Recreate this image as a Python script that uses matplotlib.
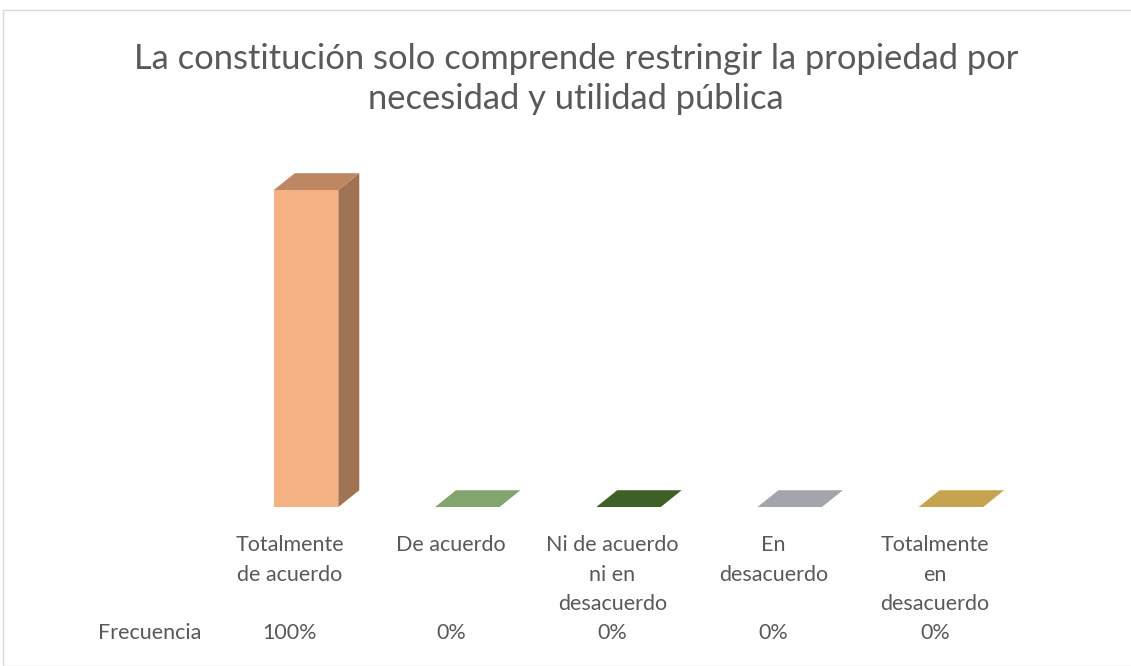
import matplotlib.pyplot as plt
import matplotlib.transforms as mtransforms
from matplotlib.patches import Polygon, Rectangle

# data
categories = ["Totalmente\nde acuerdo", "De acuerdo", "Ni de acuerdo\nni en\ndesacuerdo",
              "En\ndesacuerdo", "Totalmente\nen\ndesacuerdo"]
values = [1.0, 0.0, 0.0, 0.0, 0.0]
value_labels = ["100%", "0%", "0%", "0%", "0%"]
row_label = "Frecuencia"
title = "La constitución solo comprende restringir la propiedad por\nnecesidad y utilidad pública"

front_colors = ["#F4B183", "#82A46E", "#3E6027", "#A3A5AD", "#C4A44E"]
top_colors = ["#BD8763", "#82A46E", "#3E6027", "#A3A5AD", "#C4A44E"]
side_colors = ["#A07352", "#6E8C5C", "#334F20", "#8A8C93", "#A88C42"]

plt.rcParams['font.family'] = ['Lato', 'DejaVu Sans']
text_color = "#595959"

fig = plt.figure(figsize=(11.31, 6.66), dpi=100)
ax = fig.add_axes([0.1851, 0.2387, 0.7127, 0.476])
ax.set_xlim(-0.5, 4.5)
ax.set_ylim(0, 1)
ax.axis('off')

# pseudo 3D bars
x0 = -0.1      # front left offset from category center
w = 0.40       # front width
dx = 0.13      # depth offset in x
dy = 0.053     # depth offset in y
for i, v in enumerate(values):
    l = i + x0
    r = l + w
    # right side
    if v > 0:
        ax.add_patch(Polygon([(r, 0), (r + dx, dy), (r + dx, v + dy), (r, v)],
                             closed=True, facecolor=side_colors[i], edgecolor='none', clip_on=False))
    # top
    ax.add_patch(Polygon([(l, v), (r, v), (r + dx, v + dy), (l + dx, v + dy)],
                         closed=True, facecolor=top_colors[i], edgecolor='none', clip_on=False))
    # front
    if v > 0:
        ax.add_patch(Rectangle((l, 0), w, v, facecolor=front_colors[i], edgecolor='none'))

# title
fig.text(576 / 1131, 1 - 79 / 666, title, ha='center', va='center', fontsize=24.8,
         color=text_color, linespacing=1.3)

# data table
trans = mtransforms.blended_transform_factory(ax.transData, fig.transFigure)
for i, (c, lab) in enumerate(zip(categories, value_labels)):
    ax.text(i, 1 - 535 / 666, c, transform=trans, ha='center', va='top',
            fontsize=15.5, color=text_color, linespacing=1.6, clip_on=False)
    ax.text(i, 1 - 633 / 666, lab, transform=trans, ha='center', va='center',
            fontsize=15.5, color=text_color, clip_on=False)
ax.text(-0.87, 1 - 633 / 666, row_label, transform=trans, ha='center', va='center',
        fontsize=15.5, color=text_color, clip_on=False)

# chart border
fig.patches.append(Rectangle((3 / 1131, 0), 1.2, 1 - 10 / 666, transform=fig.transFigure,
                             fill=False, edgecolor="#D9D9D9", linewidth=1))

fig.savefig("out.png", dpi=100)
